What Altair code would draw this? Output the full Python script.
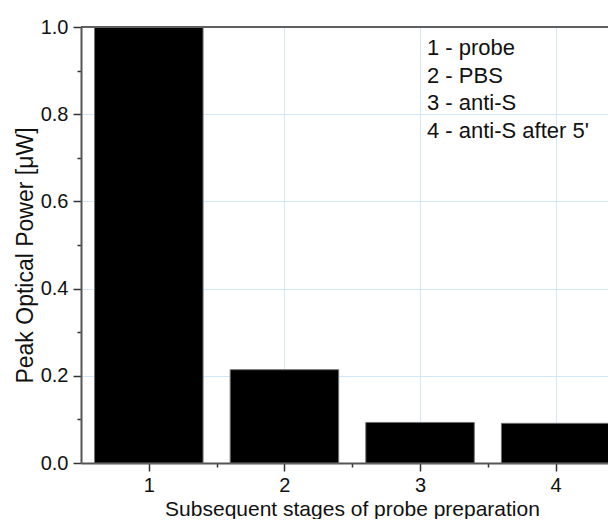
import altair as alt
import pandas as pd

# ---- data ----
stages = [1, 2, 3, 4]
power = [1.0, 0.214, 0.093, 0.091]
legend_lines = ["1 - probe", "2 - PBS", "3 - anti-S", "4 - anti-S after 5'"]
x_ticks = [1, 1.5, 2, 2.5, 3, 3.5, 4]
y_ticks = [0.0, 0.1, 0.2, 0.3, 0.4, 0.5, 0.6, 0.7, 0.8, 0.9, 1.0]
x_title = "Subsequent stages of probe preparation"
y_title = "Peak Optical Power [μW]"

df = pd.DataFrame({"stage": stages, "power": power})

FONT = "Liberation Sans"
GRID = "#d2e8fa"
AXIS = "#555555"

x_major = "abs(datum.value - round(datum.value)) < 0.01"
y_major = "round(datum.value * 10) % 2 == 0"

x_axis = alt.Axis(
    values=x_ticks,
    format=".0f",
    labelExpr=f"{x_major} ? datum.label : ''",
    tickSize={"condition": {"test": x_major, "value": 8}, "value": 4},
    gridOpacity={"condition": {"test": x_major, "value": 1}, "value": 0},
    grid=True,
    labelPadding=4,
    labelFontSize=20,
    title=x_title,
    titleFontSize=21,
    titleX=271,
    titleY=52,
    titleAlign="center",
    titleBaseline="alphabetic",
)

y_axis = alt.Axis(
    values=y_ticks,
    format=".1f",
    labelExpr=f"{y_major} ? datum.label : ''",
    tickSize={"condition": {"test": y_major, "value": 8}, "value": 4},
    gridOpacity={"condition": {"test": f"{y_major} && datum.value > 0.05 && datum.value < 0.95", "value": 1}, "value": 0},
    grid=True,
    labelPadding=5,
    labelFontSize=20,
    title=y_title,
    titleFontSize=23,
    titleAngle=270,
    titleX=-56,
    titleY=228,
    titleAlign="center",
    titleBaseline="middle",
)

bars = (
    alt.Chart(df)
    .transform_calculate(lo="datum.stage - 0.4", hi="datum.stage + 0.4")
    .mark_bar(color="black", stroke="#707070", strokeWidth=1)
    .encode(
        x=alt.X("lo:Q", scale=alt.Scale(domain=[0.5, 4.386], nice=False, zero=False), axis=x_axis),
        x2="hi:Q",
        y=alt.Y("power:Q", scale=alt.Scale(domain=[0, 1], nice=False), axis=y_axis),
        y2=alt.datum(0),
    )
)

top_line = (
    alt.Chart(pd.DataFrame({"k": [0]}))
    .mark_rule(color="#5f5f5f", strokeWidth=2)
    .encode(y=alt.datum(1.0))
)

note = (
    alt.Chart(pd.DataFrame({"k": [0]}))
    .mark_text(align="left", baseline="alphabetic", font=FONT, fontSize=22,
               lineHeight=27.7, lineBreak="\n", color="#111111")
    .encode(x=alt.value(346), y=alt.value(28), text=alt.value("\n".join(legend_lines)))
)

chart = (
    alt.layer(bars, top_line, note)
    .properties(
        width=527,
        height=436,
        autosize=alt.AutoSizeParams(type="none"),
        padding={"left": 73, "top": 19, "right": 0, "bottom": 56},
    )
    .configure_view(stroke=None)
    .configure_axis(
        labelFont=FONT,
        titleFont=FONT,
        titleFontWeight="normal",
        labelColor="#111111",
        titleColor="#111111",
        domainColor=AXIS,
        domainWidth=2,
        tickColor="#333333",
        tickWidth=1.5,
        gridColor=GRID,
        gridWidth=1,
        labelOverlap=False,
    )
)

chart.save("out.html", embed_options={"renderer": "svg", "actions": False})
